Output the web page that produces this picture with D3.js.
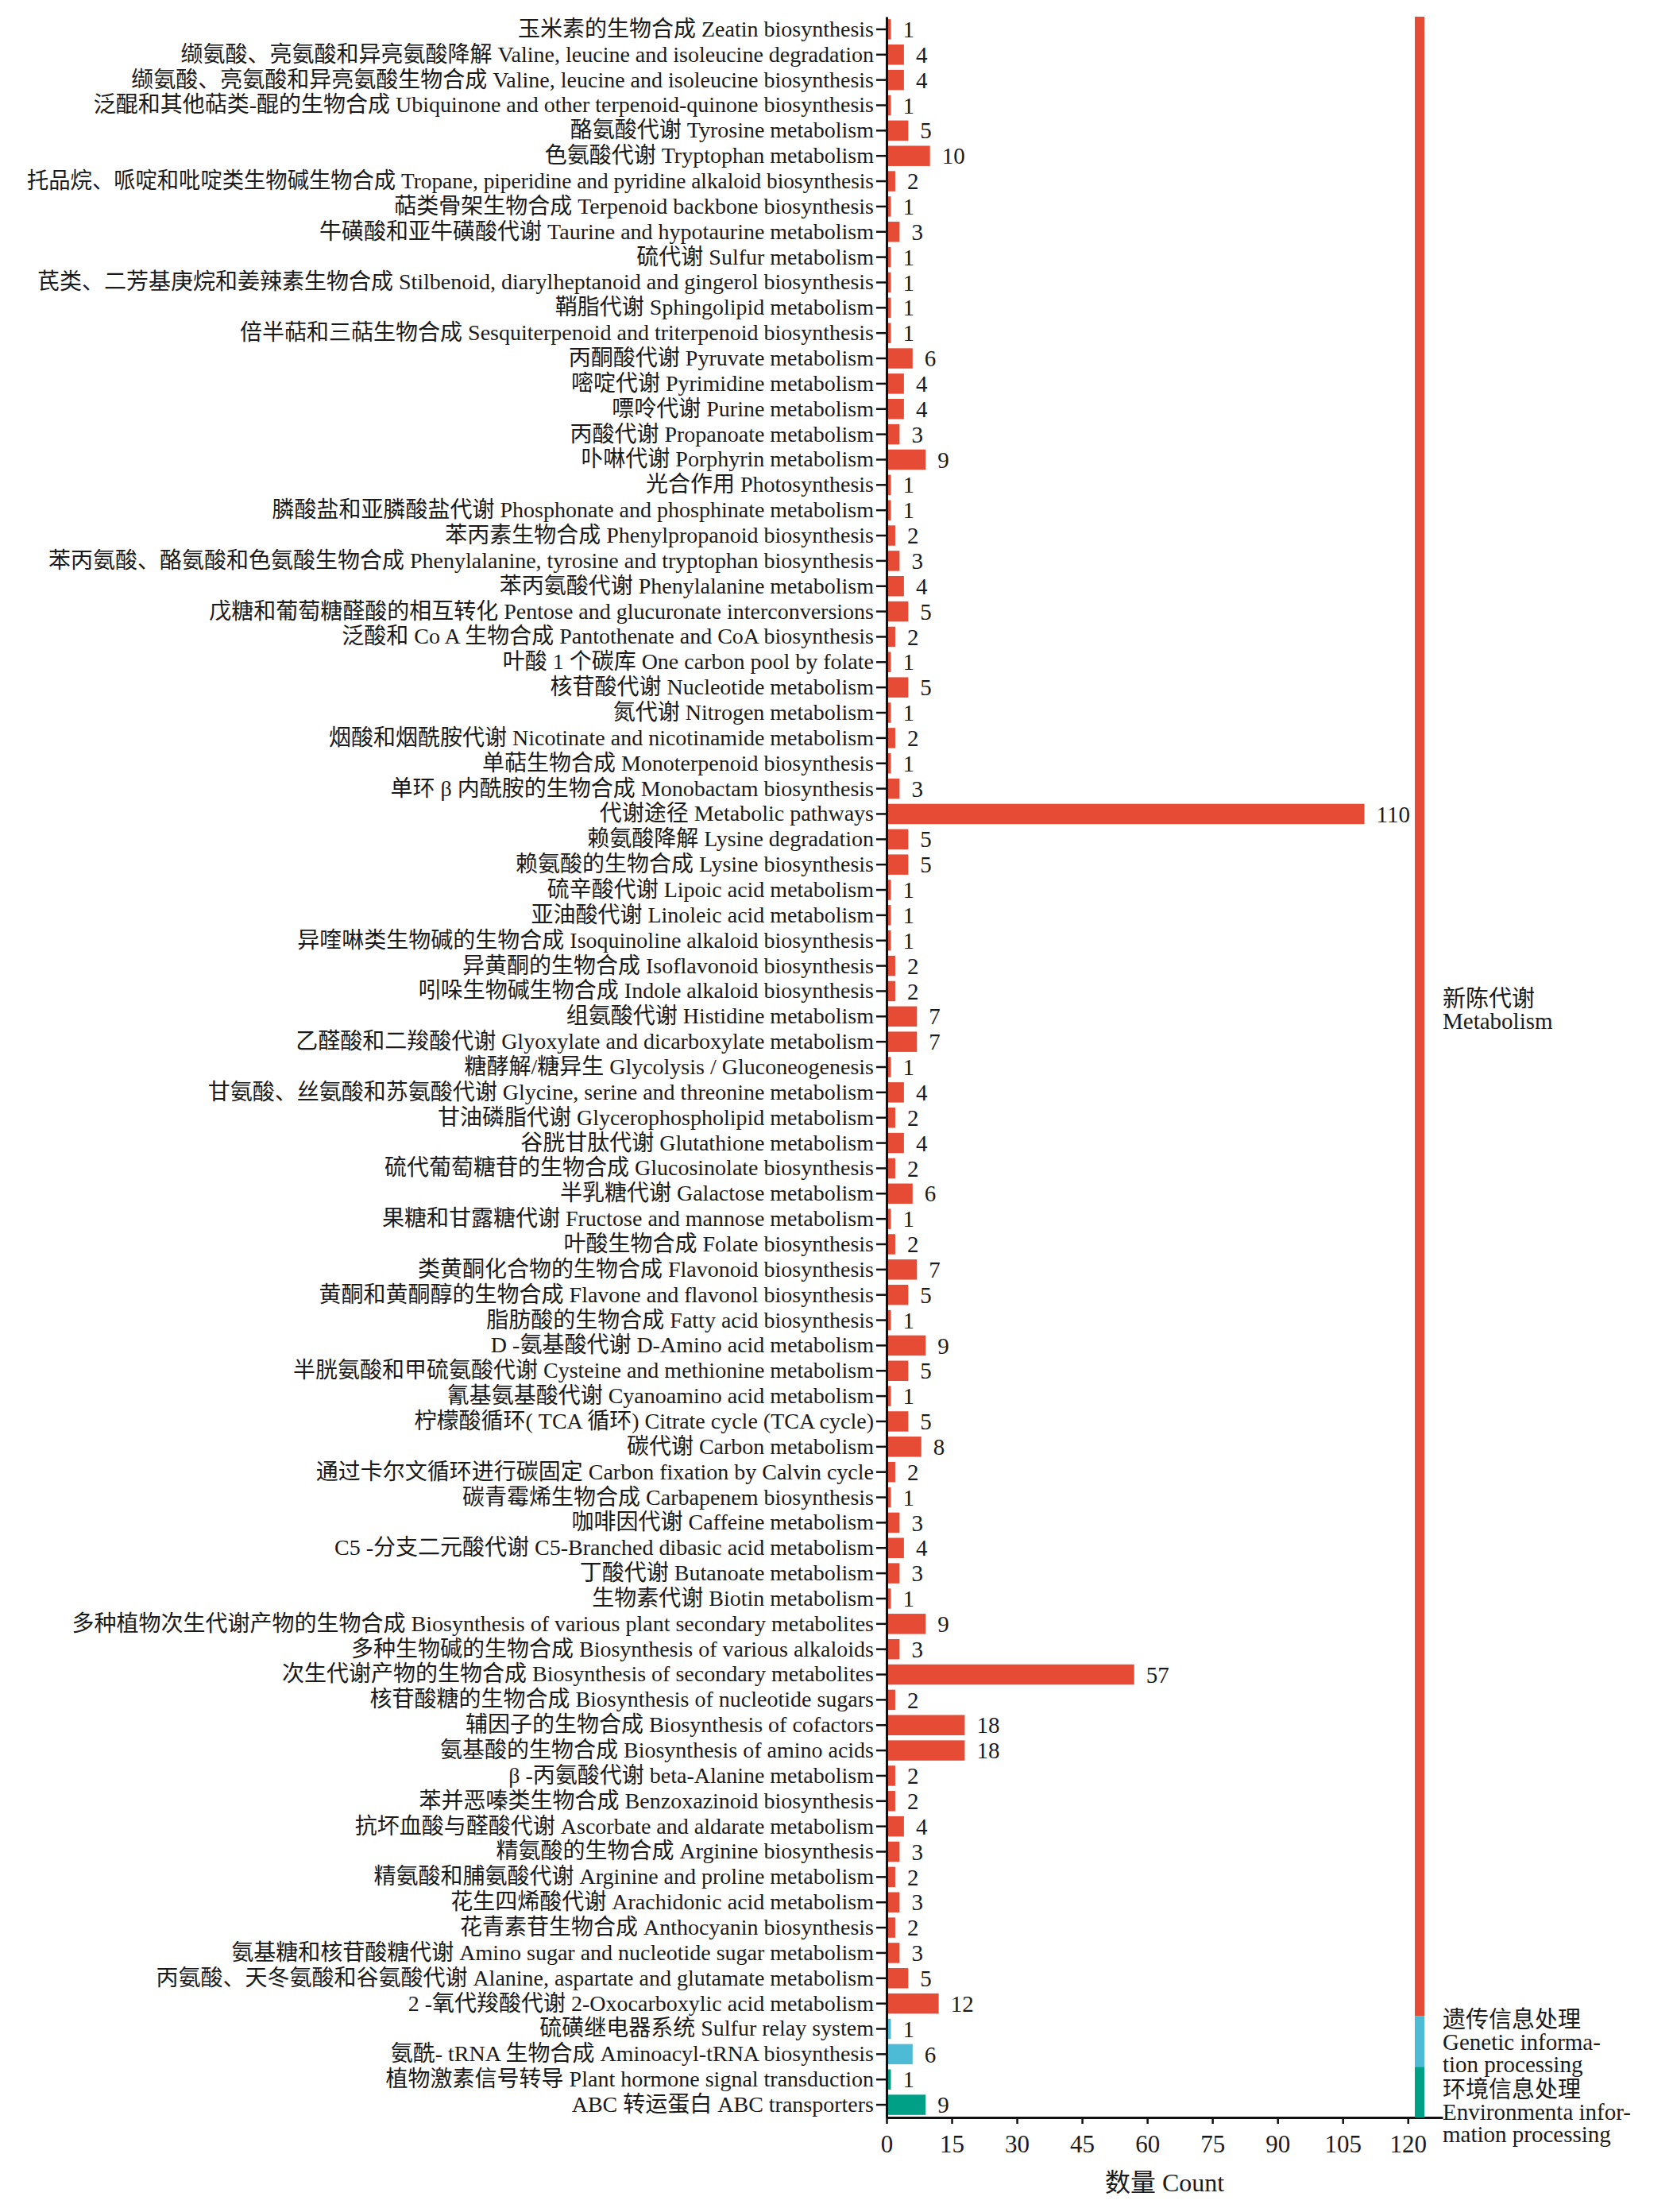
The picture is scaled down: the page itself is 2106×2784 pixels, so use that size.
<!DOCTYPE html>
<html>
<head>
<meta charset="utf-8">
<script src="https://cdn.jsdelivr.net/npm/d3@7"></script>
<style>
  body { margin: 0; background: #fff; }
  svg text { font-family: "Liberation Serif", "Noto Sans CJK SC", serif; fill: #1a1a1a; }
</style>
</head>
<body>
<div id="chart"></div>
<script>
// Pathway names (Chinese / English), gene counts and group of each row, top to bottom
const cnNames = [
  "玉米素的生物合成", "缬氨酸、亮氨酸和异亮氨酸降解", "缬氨酸、亮氨酸和异亮氨酸生物合成", "泛醌和其他萜类-醌的生物合成",
  "酪氨酸代谢", "色氨酸代谢", "托品烷、哌啶和吡啶类生物碱生物合成", "萜类骨架生物合成", "牛磺酸和亚牛磺酸代谢",
  "硫代谢", "芪类、二芳基庚烷和姜辣素生物合成", "鞘脂代谢", "倍半萜和三萜生物合成", "丙酮酸代谢", "嘧啶代谢",
  "嘌呤代谢", "丙酸代谢", "卟啉代谢", "光合作用", "膦酸盐和亚膦酸盐代谢", "苯丙素生物合成",
  "苯丙氨酸、酪氨酸和色氨酸生物合成", "苯丙氨酸代谢", "戊糖和葡萄糖醛酸的相互转化", "泛酸和 Co A 生物合成",
  "叶酸 1 个碳库", "核苷酸代谢", "氮代谢", "烟酸和烟酰胺代谢", "单萜生物合成", "单环 β 内酰胺的生物合成",
  "代谢途径", "赖氨酸降解", "赖氨酸的生物合成", "硫辛酸代谢", "亚油酸代谢", "异喹啉类生物碱的生物合成",
  "异黄酮的生物合成", "吲哚生物碱生物合成", "组氨酸代谢", "乙醛酸和二羧酸代谢", "糖酵解/糖异生",
  "甘氨酸、丝氨酸和苏氨酸代谢", "甘油磷脂代谢", "谷胱甘肽代谢", "硫代葡萄糖苷的生物合成", "半乳糖代谢",
  "果糖和甘露糖代谢", "叶酸生物合成", "类黄酮化合物的生物合成", "黄酮和黄酮醇的生物合成", "脂肪酸的生物合成",
  "D -氨基酸代谢", "半胱氨酸和甲硫氨酸代谢", "氰基氨基酸代谢", "柠檬酸循环( TCA 循环)", "碳代谢",
  "通过卡尔文循环进行碳固定", "碳青霉烯生物合成", "咖啡因代谢", "C5 -分支二元酸代谢", "丁酸代谢", "生物素代谢",
  "多种植物次生代谢产物的生物合成", "多种生物碱的生物合成", "次生代谢产物的生物合成", "核苷酸糖的生物合成",
  "辅因子的生物合成", "氨基酸的生物合成", "β -丙氨酸代谢", "苯并恶嗪类生物合成", "抗坏血酸与醛酸代谢",
  "精氨酸的生物合成", "精氨酸和脯氨酸代谢", "花生四烯酸代谢", "花青素苷生物合成", "氨基糖和核苷酸糖代谢",
  "丙氨酸、天冬氨酸和谷氨酸代谢", "2 -氧代羧酸代谢", "硫磺继电器系统", "氨酰- tRNA 生物合成",
  "植物激素信号转导", "ABC 转运蛋白"
];
const enNames = [
  "Zeatin biosynthesis", "Valine, leucine and isoleucine degradation", "Valine, leucine and isoleucine biosynthesis",
  "Ubiquinone and other terpenoid-quinone biosynthesis", "Tyrosine metabolism", "Tryptophan metabolism",
  "Tropane, piperidine and pyridine alkaloid biosynthesis", "Terpenoid backbone biosynthesis",
  "Taurine and hypotaurine metabolism", "Sulfur metabolism", "Stilbenoid, diarylheptanoid and gingerol biosynthesis",
  "Sphingolipid metabolism", "Sesquiterpenoid and triterpenoid biosynthesis", "Pyruvate metabolism",
  "Pyrimidine metabolism", "Purine metabolism", "Propanoate metabolism", "Porphyrin metabolism", "Photosynthesis",
  "Phosphonate and phosphinate metabolism", "Phenylpropanoid biosynthesis",
  "Phenylalanine, tyrosine and tryptophan biosynthesis", "Phenylalanine metabolism",
  "Pentose and glucuronate interconversions", "Pantothenate and CoA biosynthesis", "One carbon pool by folate",
  "Nucleotide metabolism", "Nitrogen metabolism", "Nicotinate and nicotinamide metabolism",
  "Monoterpenoid biosynthesis", "Monobactam biosynthesis", "Metabolic pathways", "Lysine degradation",
  "Lysine biosynthesis", "Lipoic acid metabolism", "Linoleic acid metabolism", "Isoquinoline alkaloid biosynthesis",
  "Isoflavonoid biosynthesis", "Indole alkaloid biosynthesis", "Histidine metabolism",
  "Glyoxylate and dicarboxylate metabolism", "Glycolysis / Gluconeogenesis", "Glycine, serine and threonine metabolism",
  "Glycerophospholipid metabolism", "Glutathione metabolism", "Glucosinolate biosynthesis", "Galactose metabolism",
  "Fructose and mannose metabolism", "Folate biosynthesis", "Flavonoid biosynthesis",
  "Flavone and flavonol biosynthesis", "Fatty acid biosynthesis", "D-Amino acid metabolism",
  "Cysteine and methionine metabolism", "Cyanoamino acid metabolism", "Citrate cycle (TCA cycle)",
  "Carbon metabolism", "Carbon fixation by Calvin cycle", "Carbapenem biosynthesis", "Caffeine metabolism",
  "C5-Branched dibasic acid metabolism", "Butanoate metabolism", "Biotin metabolism",
  "Biosynthesis of various plant secondary metabolites", "Biosynthesis of various alkaloids",
  "Biosynthesis of secondary metabolites", "Biosynthesis of nucleotide sugars", "Biosynthesis of cofactors",
  "Biosynthesis of amino acids", "beta-Alanine metabolism", "Benzoxazinoid biosynthesis",
  "Ascorbate and aldarate metabolism", "Arginine biosynthesis", "Arginine and proline metabolism",
  "Arachidonic acid metabolism", "Anthocyanin biosynthesis", "Amino sugar and nucleotide sugar metabolism",
  "Alanine, aspartate and glutamate metabolism", "2-Oxocarboxylic acid metabolism", "Sulfur relay system",
  "Aminoacyl-tRNA biosynthesis", "Plant hormone signal transduction", "ABC transporters"
];
const counts = [
  1, 4, 4, 1, 5, 10, 2, 1, 3, 1, 1, 1, 1, 6, 4, 4, 3, 9, 1, 1, 2, 3, 4, 5, 2, 1, 5, 1, 2, 1, 3,
  110, 5, 5, 1, 1, 1, 2, 2, 7, 7, 1, 4, 2, 4, 2, 6, 1, 2, 7, 5, 1, 9, 5, 1, 5, 8, 2, 1, 3, 4, 3, 1,
  9, 3, 57, 2, 18, 18, 2, 2, 4, 3, 2, 3, 2, 3, 5, 12, 1, 6, 1, 9
];
// group index of every row: 0 metabolism, 1 genetic, 2 environmental
const rowGroups = counts.map((d, i) => i < 79 ? 0 : (i < 81 ? 1 : 2));

// Groups: label lines and colours
const groupLabels = [
  ["新陈代谢", "Metabolism"],
  ["遗传信息处理", "Genetic informa-", "tion processing"],
  ["环境信息处理", "Environmenta infor-", "mation processing"]
];
const groupColors = ["#E64B35", "#4DBBD5", "#00A087"];
const groupLabelShift = [-12, -17, 7]; // first line offset from group middle

const xTicks = [0, 15, 30, 45, 60, 75, 90, 105, 120];
const xTitle = "数量 Count";

const width = 2106, height = 2784;
const rows = counts.map((c, i) => ({ id: i, cn: cnNames[i], en: enNames[i], count: c, group: rowGroups[i] }));

const svg = d3.select("#chart").append("svg")
    .attr("width", width)
    .attr("height", height);
svg.append("rect").attr("width", width).attr("height", height).attr("fill", "#fff");

const x = d3.scaleLinear().domain([0, 128]).range([1116, 1816]);
const y = d3.scaleBand()
    .domain(rows.map(d => d.id))
    .range([21, 2665])
    .paddingInner(0.2)
    .paddingOuter(0.1);
const halfGap = y.step() * 0.1;

// bars
svg.append("g").selectAll("rect")
    .data(rows)
    .enter()
    .append("rect")
    .attr("x", x(0))
    .attr("y", d => y(d.id))
    .attr("width", d => x(d.count) - x(0))
    .attr("height", y.bandwidth())
    .attr("fill", d => groupColors[d.group]);

// value labels
svg.append("g").selectAll("text")
    .data(rows)
    .enter()
    .append("text")
    .attr("x", d => x(d.count) + 15)
    .attr("y", d => y(d.id) + y.bandwidth() / 2)
    .attr("dy", "0.35em")
    .style("font-size", "29px")
    .text(d => d.count);

// y axis with the two-language labels
const yAxis = svg.append("g")
    .attr("transform", `translate(${x(0)},0)`)
    .call(d3.axisLeft(y).tickSize(13).tickSizeOuter(0).tickPadding(3)
        .tickFormat(i => cnNames[i] + " " + enNames[i]));
yAxis.select(".domain").attr("stroke", "#111").attr("stroke-width", 3);
yAxis.selectAll(".tick line").attr("stroke", "#111").attr("stroke-width", 2.5);
yAxis.selectAll(".tick text")
    .attr("fill", "#1a1a1a")
    .style("font-size", "28px")
    .style("font-family", '"Liberation Serif", "Noto Sans CJK SC", serif')
    .each(function () {
        // squeeze labels that would run off the left edge
        const len = this.getComputedTextLength();
        const room = x(0) - 16 - 34;
        if (len > room) {
            d3.select(this).attr("textLength", room).attr("lengthAdjust", "spacingAndGlyphs");
        }
    });

// x axis
const xAxis = svg.append("g")
    .attr("transform", `translate(0,${y.range()[1]})`)
    .call(d3.axisBottom(x).tickValues(xTicks).tickSize(8).tickSizeOuter(0).tickPadding(14));
xAxis.select(".domain").attr("stroke", "#111").attr("stroke-width", 3);
xAxis.selectAll(".tick line").attr("stroke", "#111").attr("stroke-width", 2.5);
xAxis.selectAll(".tick text")
    .attr("fill", "#1a1a1a")
    .style("font-size", "31px")
    .style("font-family", '"Liberation Serif", serif');

svg.append("text")
    .attr("x", (x.range()[0] + x.range()[1]) / 2)
    .attr("y", 2747)
    .attr("dy", "0.35em")
    .attr("text-anchor", "middle")
    .style("font-size", "32px")
    .text(xTitle);

// group strips on the right
const groups = groupLabels.map((lines, g) => {
    const members = rows.filter(d => d.group === g);
    const top = y(members[0].id) - halfGap;
    const bottom = y(members[members.length - 1].id) + y.bandwidth() + halfGap;
    return { g, lines, top, bottom };
});

svg.append("g").selectAll("rect")
    .data(groups)
    .enter()
    .append("rect")
    .attr("x", x(121.6))
    .attr("y", d => d.top)
    .attr("width", x(123.8) - x(121.6))
    .attr("height", d => d.bottom - d.top)
    .attr("fill", d => groupColors[d.g]);

const labelG = svg.append("g").selectAll("text")
    .data(groups)
    .enter()
    .append("text")
    .attr("x", x(128))
    .attr("y", d => (d.top + d.bottom) / 2 + groupLabelShift[d.g])
    .attr("dy", "0.35em")
    .style("font-size", "29px");
labelG.selectAll("tspan")
    .data(d => d.lines)
    .enter()
    .append("tspan")
    .attr("x", x(128))
    .attr("dy", (d, i) => i === 0 ? 0 : 28)
    .text(d => d);
</script>
</body>
</html>
